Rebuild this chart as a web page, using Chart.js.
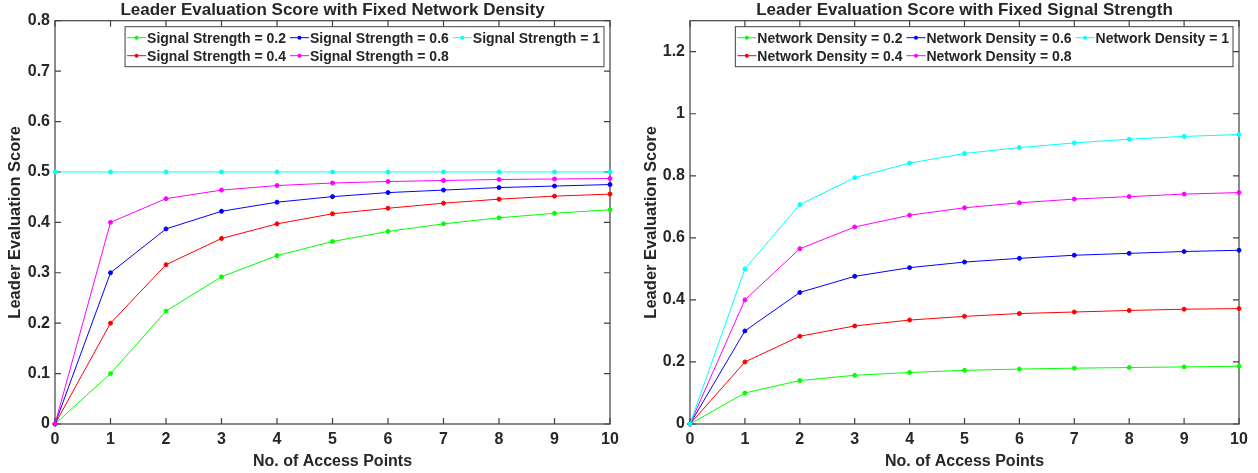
<!DOCTYPE html>
<html>
<head>
<meta charset="utf-8">
<script src="https://cdn.jsdelivr.net/npm/chart.js@4.4.1/dist/chart.umd.min.js"></script>
<style>
    html, body { margin: 0; padding: 0; background: #fff; }
    .panel { position: absolute; top: 0; width: 629px; height: 473px; }
    #left_panel { left: 0; }
    #right_panel { left: 629px; }
</style>
</head>
<body>
<div class="panel" id="left_panel"><canvas id="fixed_density" width="629" height="473"></canvas></div>
<div class="panel" id="right_panel"><canvas id="fixed_signal" width="629" height="473"></canvas></div>
<script>
// x categories shared by both plots
const accessPoints = ['0', '1', '2', '3', '4', '5', '6', '7', '8', '9', '10'];

// left plot: fixed network density
const signalLabels = ['Signal Strength = 0.2', 'Signal Strength = 0.4', 'Signal Strength = 0.6', 'Signal Strength = 0.8', 'Signal Strength = 1'];
const signal02 = [0, 0.100, 0.224, 0.292, 0.334, 0.362, 0.382, 0.397, 0.409, 0.418, 0.425];
const signal04 = [0, 0.200, 0.316, 0.368, 0.397, 0.417, 0.428, 0.438, 0.446, 0.452, 0.456];
const signal06 = [0, 0.300, 0.387, 0.422, 0.440, 0.451, 0.459, 0.464, 0.469, 0.472, 0.475];
const signal08 = [0, 0.400, 0.447, 0.464, 0.473, 0.478, 0.481, 0.483, 0.485, 0.486, 0.487];
const signal10 = [0.5, 0.5, 0.5, 0.5, 0.5, 0.5, 0.5, 0.5, 0.5, 0.5, 0.5];

// right plot: fixed signal strength
const densityLabels = ['Network Density = 0.2', 'Network Density = 0.4', 'Network Density = 0.6', 'Network Density = 0.8', 'Network Density = 1'];
const density02 = [0, 0.100, 0.140, 0.157, 0.166, 0.173, 0.177, 0.180, 0.182, 0.184, 0.186];
const density04 = [0, 0.200, 0.283, 0.316, 0.335, 0.347, 0.356, 0.361, 0.366, 0.370, 0.372];
const density06 = [0, 0.300, 0.424, 0.476, 0.504, 0.522, 0.534, 0.544, 0.550, 0.556, 0.560];
const density08 = [0, 0.400, 0.565, 0.635, 0.673, 0.697, 0.713, 0.725, 0.733, 0.741, 0.746];
const density10 = [0, 0.500, 0.707, 0.794, 0.841, 0.872, 0.891, 0.906, 0.918, 0.927, 0.933];

// y ticks
const leftYTicks = [0, 0.1, 0.2, 0.3, 0.4, 0.5, 0.6, 0.7, 0.8];
const rightYTicks = [0, 0.2, 0.4, 0.6, 0.8, 1, 1.2];

const lineColors = ['#00ff00', '#ff0000', '#0000ff', '#ff00ff', '#00ffff'];
const FONT = 'Liberation Sans, Arial, Helvetica, sans-serif';
const TEXT = '#262626';
const AXIS = '#404040';

// box with inward ticks on all four sides, like a matlab axes
const framePlugin = {
    id: 'frame',
    beforeDatasetsDraw(chart) {
        const {ctx, chartArea: a, scales} = chart;
        const len = 6;
        ctx.save();
        ctx.strokeStyle = AXIS;
        ctx.lineWidth = 1.2;
        ctx.strokeRect(a.left, a.top, a.right - a.left, a.bottom - a.top);
        ctx.beginPath();
        scales.x.ticks.forEach((t, i) => {
            const px = scales.x.getPixelForTick(i);
            ctx.moveTo(px, a.bottom); ctx.lineTo(px, a.bottom - len);
            ctx.moveTo(px, a.top); ctx.lineTo(px, a.top + len);
        });
        scales.y.ticks.forEach(t => {
            const py = scales.y.getPixelForValue(t.value);
            ctx.moveTo(a.left, py); ctx.lineTo(a.left + len, py);
            ctx.moveTo(a.right, py); ctx.lineTo(a.right - len, py);
        });
        ctx.stroke();
        ctx.restore();
    }
};

// boxed legend in the top right corner, 3 columns x 2 rows, filled column by column
const boxLegendPlugin = {
    id: 'boxLegend',
    afterDraw(chart) {
        const {ctx, chartArea: a} = chart;
        const sets = chart.data.datasets;
        ctx.save();
        ctx.font = 'bold 14px ' + FONT;
        const cols = [[0, 1], [2, 3], [4]];
        const colW = cols.map(c => 20 + Math.max(...c.map(i => ctx.measureText(sets[i].label).width)) + 4);
        const boxW = 2 + colW.reduce((s, w) => s + w, 0);
        const boxH = 40;
        const right = a.right - 6;
        const left = right - boxW;
        const top = a.top + 6;
        ctx.fillStyle = '#fff';
        ctx.fillRect(left, top, boxW, boxH);
        ctx.strokeStyle = AXIS;
        ctx.lineWidth = 1;
        ctx.strokeRect(left, top, boxW, boxH);
        let x = left + 2;
        cols.forEach((c, ci) => {
            c.forEach((i, row) => {
                const y = top + 11 + row * 18;
                ctx.strokeStyle = sets[i].borderColor;
                ctx.beginPath();
                ctx.moveTo(x, y); ctx.lineTo(x + 19, y);
                ctx.stroke();
                ctx.fillStyle = sets[i].borderColor;
                ctx.beginPath();
                ctx.arc(x + 9.5, y, 2, 0, Math.PI * 2);
                ctx.fill();
                ctx.fillStyle = TEXT;
                ctx.textBaseline = 'middle';
                ctx.fillText(sets[i].label, x + 20, y + 1);
            });
            x += colW[ci];
        });
        ctx.restore();
    }
};

function makeChart(canvasId, title, labels, series, yTicks, yMax, yAxisWidth, yTitlePad) {
    const datasets = series.map((d, i) => ({
        label: labels[i],
        data: d,
        borderColor: lineColors[i],
        backgroundColor: lineColors[i],
        borderWidth: 1,
        pointRadius: 2,
        pointBorderWidth: 1,
        pointStyle: 'circle',
        tension: 0,
        clip: false,
        order: series.length - i
    }));
    return new Chart(document.getElementById(canvasId), {
        type: 'line',
        data: { labels: accessPoints, datasets },
        options: {
            responsive: false,
            animation: false,
            layout: { padding: { left: 0, right: 19, top: 0, bottom: 2 } },
            plugins: {
                legend: { display: false },
                tooltip: { enabled: false },
                boxLegend: {},
                title: {
                    display: true,
                    text: title,
                    fullSize: false,
                    color: TEXT,
                    font: { family: FONT, size: 17, weight: 'bold', lineHeight: 1.1 },
                    padding: { top: 1, bottom: 1 }
                }
            },
            scales: {
                x: {
                    type: 'category',
                    offset: false,
                    grid: { display: false, drawTicks: false },
                    border: { display: false },
                    ticks: { color: TEXT, padding: 6, maxRotation: 0, autoSkip: false,
                             font: { family: FONT, size: 16, weight: 'bold' } },
                    title: { display: true, text: 'No. of Access Points', color: TEXT,
                             font: { family: FONT, size: 16, weight: 'bold' },
                             padding: { top: 0, bottom: 0 } },
                    afterFit(scale) { scale.height = 47; }
                },
                y: {
                    min: 0,
                    max: yMax,
                    grid: { display: false, drawTicks: false },
                    border: { display: false },
                    afterBuildTicks(scale) {
                        scale.ticks = yTicks.map(v => ({ value: v }));
                    },
                    ticks: { color: TEXT, padding: 5,
                             callback: v => String(Math.round(v * 10) / 10),
                             font: { family: FONT, size: 16, weight: 'bold' } },
                    title: { display: true, text: 'Leader Evaluation Score', color: TEXT,
                             font: { family: FONT, size: 16.5, weight: 'bold' },
                             padding: { top: yTitlePad, bottom: 0 } },
                    afterFit(scale) { scale.width = yAxisWidth; }
                }
            }
        },
        plugins: [framePlugin, boxLegendPlugin]
    });
}

document.addEventListener('DOMContentLoaded', () => {
    makeChart('fixed_density', 'Leader Evaluation Score with Fixed Network Density', signalLabels,
        [signal02, signal04, signal06, signal08, signal10], leftYTicks, 0.8, 55, 6);
    makeChart('fixed_signal', 'Leader Evaluation Score with Fixed Signal Strength', densityLabels,
        [density02, density04, density06, density08, density10], rightYTicks, 1.3, 61, 13);
});
</script>
</body>
</html>
